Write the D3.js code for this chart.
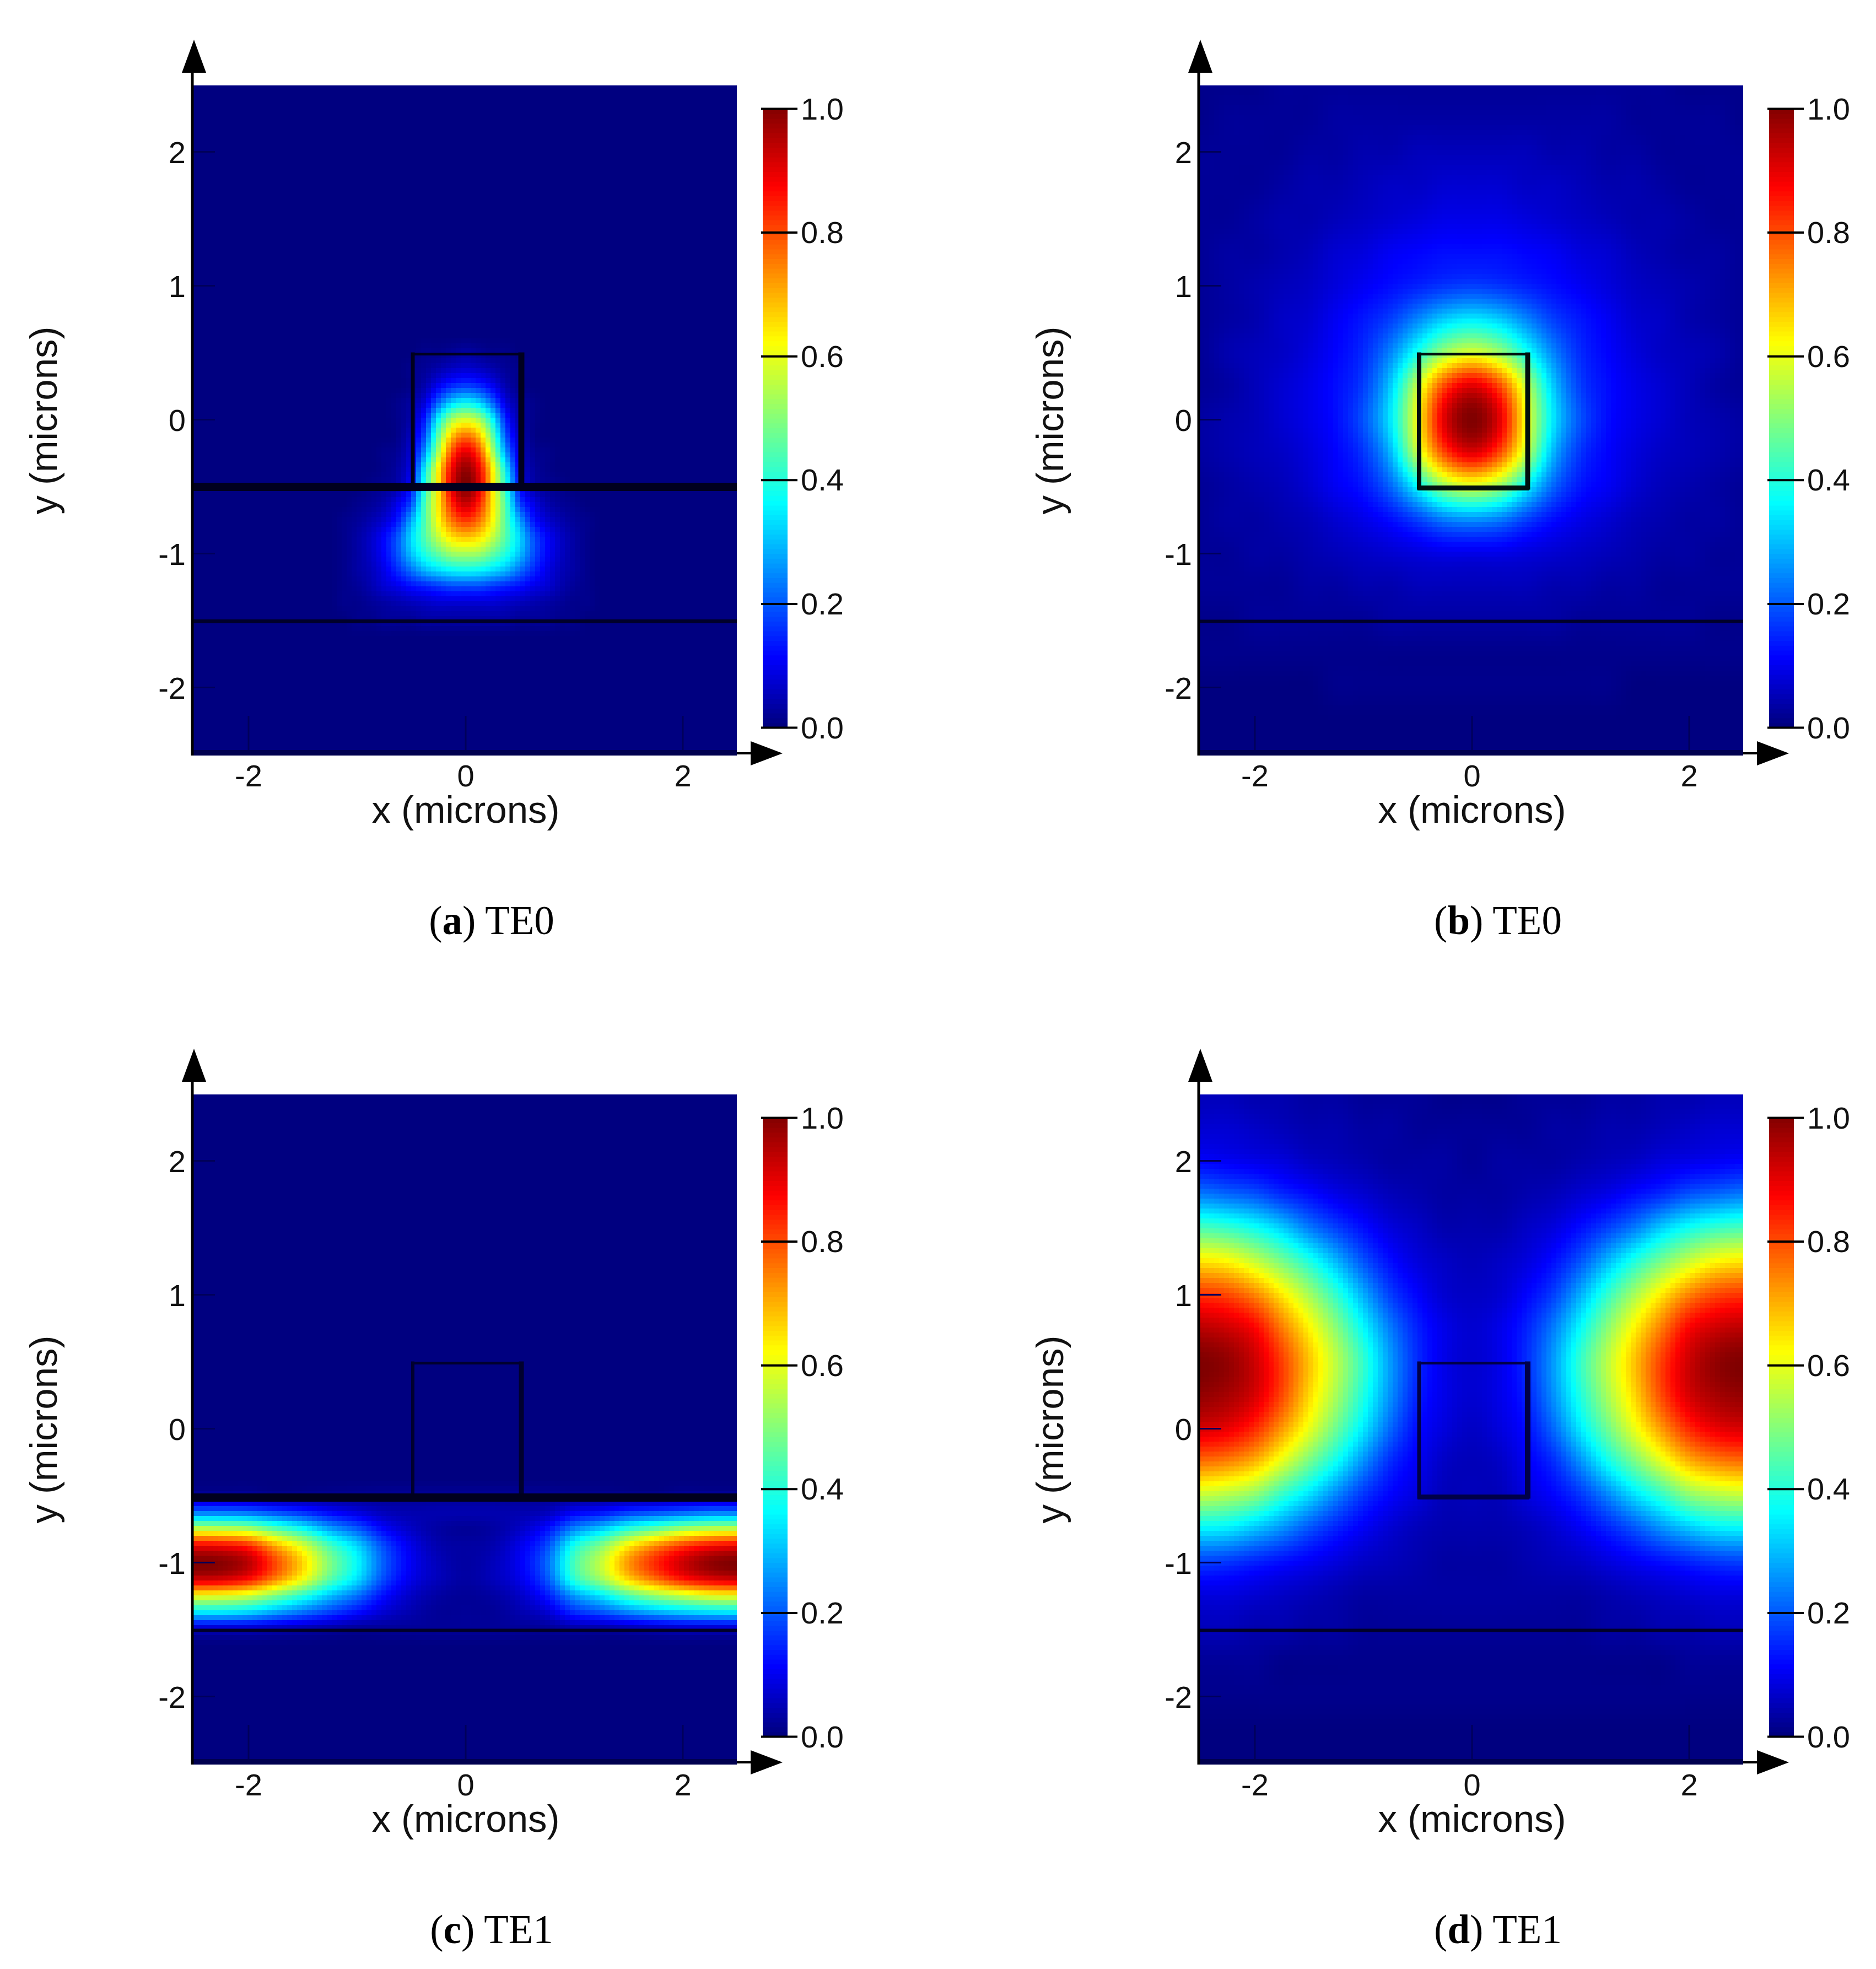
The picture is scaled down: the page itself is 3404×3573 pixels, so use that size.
<!DOCTYPE html>
<html>
<head>
<meta charset="utf-8">
<script src="https://cdn.jsdelivr.net/npm/d3@7"></script>
<style>
body { margin: 0; background: #fff; }
#heat, #svg1 { position: absolute; left: 0; top: 0; }
</style>
</head>
<body>
<canvas id="heat" width="3404" height="3573"></canvas>
<svg id="svg1" width="3404" height="3573"></svg>
<script>
// axis ticks
const xTicks = [-2, 0, 2];
const yTicks = [-2, -1, 0, 1, 2];
const barTicks = [0, 0.2, 0.4, 0.6, 0.8, 1];
// colour stops of the bar
const jetStops = [0, 0.11, 0.36, 0.62, 0.87, 1];
const jetColors = ['#000080', '#0000ff', '#00ffff', '#ffff00', '#ff0000', '#800000'];
// sample positions (microns)
const xsWide = [-2.5,-2.25,-2,-1.75,-1.5,-1.25,-1,-0.75,-0.5,-0.25,0,0.25,0.5,0.75,1,1.25,1.5,1.75,2,2.25,2.5];
const ysWide = [2.5,2.25,2,1.75,1.5,1.25,1,0.75,0.5,0.25,0,-0.25,-0.5,-0.75,-1,-1.25,-1.5,-1.75,-2,-2.25,-2.5];
const xsA = [-1.25,-1.125,-1,-0.875,-0.75,-0.625,-0.5,-0.375,-0.25,-0.125,0,0.125,0.25,0.375,0.5,0.625,0.75,0.875,1,1.125,1.25];
const ysA = [0.625,0.5,0.375,0.25,0.125,0,-0.125,-0.25,-0.375,-0.5,-0.625,-0.75,-0.875,-1,-1.125,-1.25,-1.375,-1.5,-1.625];
const ysC = [-0.375,-0.5,-0.625,-0.75,-0.875,-1,-1.125,-1.25,-1.375,-1.5,-1.625];
// field, percent of the peak, one row per y
const fieldA = [
[0,0,0,0,0,0,0,0,0,0,0,0,0,0,0,0,0,0,0,0,0],
[0,0,0,0,0,0,0,1,1,2,3,2,1,1,0,0,0,0,0,0,0],
[0,0,0,0,0,0,1,2,4,6,7,6,4,2,1,0,0,0,0,0,0],
[0,0,0,0,0,0,1,4,10,15,17,15,10,4,1,0,0,0,0,0,0],
[0,0,0,0,0,1,3,8,21,32,36,32,21,8,3,1,0,0,0,0,0],
[0,0,0,0,0,1,4,14,36,53,58,53,36,14,4,1,0,0,0,0,0],
[0,0,0,0,0,1,6,19,46,68,76,68,46,19,6,1,0,0,0,0,0],
[0,0,0,0,1,2,8,26,54,80,90,80,54,26,8,2,1,0,0,0,0],
[0,0,0,0,1,3,10,35,63,88,98,88,63,35,10,3,1,0,0,0,0],
[0,0,0,1,2,4,13,39,64,90,100,90,64,39,13,4,2,1,0,0,0],
[0,0,1,2,4,9,18,43,64,84,93,84,64,43,18,9,4,2,1,0,0],
[0,1,2,4,7,13,27,44,62,76,82,76,62,44,27,13,7,4,2,1,0],
[0,1,3,6,11,19,32,44,56,65,68,65,56,44,32,19,11,6,3,1,0],
[0,1,3,6,11,19,30,39,46,52,53,52,46,39,30,19,11,6,3,1,0],
[0,1,3,5,9,15,22,29,33,36,37,36,33,29,22,15,9,5,3,1,0],
[0,1,2,4,7,9,12,14,16,18,18,18,16,14,12,9,7,4,2,1,0],
[0,1,1,2,3,4,5,6,7,7,7,7,7,6,5,4,3,2,1,1,0],
[0,0,1,1,2,2,2,3,3,3,3,3,3,3,2,2,2,1,1,0,0],
[0,0,0,0,0,0,0,0,0,0,0,0,0,0,0,0,0,0,0,0,0]
];
const fieldB = [
[1,1,1,2,2,2,2,2,2,2,2,2,2,2,2,2,2,2,1,1,1],
[1,2,2,2,2,3,3,3,3,3,3,3,3,3,3,3,2,2,2,2,1],
[2,2,2,2,3,3,4,4,5,5,5,5,5,4,4,3,3,2,2,2,2],
[2,2,2,3,4,4,5,6,6,7,7,7,6,6,5,4,4,3,2,2,2],
[2,2,3,4,4,5,6,7,8,9,9,9,8,7,6,5,4,4,3,2,2],
[2,3,3,4,5,7,8,10,11,12,12,12,11,10,8,7,5,4,3,3,2],
[2,3,4,5,6,8,10,12,14,16,17,16,14,12,10,8,6,5,4,3,2],
[2,3,4,6,7,10,13,17,24,31,34,31,24,17,13,10,7,6,4,3,2],
[2,4,5,6,8,11,15,24,38,52,58,52,38,24,15,11,8,6,5,4,2],
[2,3,5,7,9,12,17,31,56,80,90,80,56,31,17,12,9,7,5,3,2],
[3,4,5,7,9,12,19,34,61,90,100,90,61,34,19,12,9,7,5,4,3],
[3,4,5,6,8,11,16,29,56,80,90,80,56,29,16,11,8,6,5,4,3],
[2,3,4,5,7,10,13,21,36,52,58,52,36,21,13,10,7,5,4,3,2],
[2,3,3,4,5,7,9,12,17,23,25,23,17,12,9,7,5,4,3,3,2],
[2,2,3,3,4,5,6,7,8,9,9,9,8,7,6,5,4,3,3,2,2],
[2,2,2,2,3,3,4,4,5,5,5,5,5,4,4,3,3,2,2,2,2],
[1,1,2,2,2,2,2,3,3,3,3,3,3,3,2,2,2,2,2,1,1],
[1,1,1,1,1,1,1,1,1,1,1,1,1,1,1,1,1,1,1,1,1],
[0,0,0,0,0,1,1,1,1,1,1,1,1,1,1,1,0,0,0,0,0],
[0,0,0,0,0,0,0,0,0,0,0,0,0,0,0,0,0,0,0,0,0],
[0,0,0,0,0,0,0,0,0,0,0,0,0,0,0,0,0,0,0,0,0]
];
const fieldC = [
[0,0,0,0,0,0,0,0,0,0,0,0,0,0,0,0,0,0,0,0,0],
[3,3,3,2,2,2,2,2,2,2,2,2,2,2,2,2,2,2,3,3,3],
[22,22,21,18,15,11,8,5,4,4,4,4,4,5,10,12,16,18,20,22,22],
[56,55,53,45,37,27,20,11,6,3,2,3,6,12,24,31,40,46,52,55,56],
[88,87,83,70,58,43,32,18,9,4,3,4,9,18,38,49,63,73,81,86,88],
[100,99,94,80,66,49,36,20,10,5,3,5,10,21,43,56,72,83,92,98,100],
[92,91,86,74,61,45,33,18,9,5,3,5,9,19,40,52,66,76,85,90,92],
[61,60,57,49,40,30,22,12,6,3,2,3,6,13,26,34,44,51,56,60,61],
[34,34,32,27,22,17,12,7,4,2,2,2,4,7,15,19,24,28,31,33,34],
[6,6,6,5,4,3,2,2,2,2,2,2,2,2,3,3,4,5,6,6,6],
[0,0,0,0,0,0,0,0,0,0,0,0,0,0,0,0,0,0,0,0,0]
];
const fieldD = [
[5,5,4,4,3,3,2,2,2,1,1,1,2,2,2,3,3,4,4,5,5],
[7,7,6,5,4,4,3,3,2,2,2,2,2,3,3,4,4,5,6,7,7],
[11,10,9,8,6,5,4,3,3,3,2,3,3,3,4,5,6,8,9,10,11],
[23,21,19,15,12,9,7,5,4,3,3,3,4,5,7,9,12,15,19,21,23],
[43,41,37,31,23,17,12,8,6,4,4,4,6,8,12,17,23,31,37,41,43],
[64,62,56,48,39,29,19,12,8,6,5,6,8,12,19,29,39,48,56,62,64],
[82,80,74,64,53,41,28,17,11,7,6,7,11,17,28,41,53,64,74,80,82],
[94,92,87,75,63,50,36,23,14,9,7,9,14,23,36,50,63,75,87,92,94],
[100,98,92,81,68,55,41,26,15,9,7,9,15,26,41,55,68,81,92,98,100],
[98,96,91,80,66,53,39,25,14,9,7,9,14,25,39,53,66,80,91,96,98],
[91,89,83,72,60,47,34,21,12,8,6,8,12,21,34,47,60,72,83,89,91],
[76,74,69,59,48,37,25,15,10,6,5,6,10,15,25,37,48,59,69,74,76],
[56,54,50,41,33,24,16,11,8,5,5,5,8,11,16,24,33,41,50,54,56],
[35,34,30,25,19,14,10,7,5,4,4,4,5,7,10,14,19,25,30,34,35],
[17,16,14,12,10,8,6,5,4,3,3,3,4,5,6,8,10,12,14,16,17],
[8,8,7,6,5,4,3,3,3,3,3,3,3,3,3,4,5,6,7,8,8],
[5,5,4,4,3,3,2,2,2,2,2,2,2,2,2,3,3,4,4,5,5],
[2,2,2,1,1,1,1,1,1,1,1,1,1,1,1,1,1,1,2,2,2],
[1,1,1,1,1,1,1,1,1,1,1,1,1,1,1,1,1,1,1,1,1],
[0,0,0,0,0,0,0,0,0,0,0,0,0,0,0,0,0,0,0,0,0],
[0,0,0,0,0,0,0,0,0,0,0,0,0,0,0,0,0,0,0,0,0]
];
// waveguide outline
const ribX = [-0.5, 0.5];
const ribY = [0.5, -0.5];
const slabY = -1.5;

const panels = [
  {tag:'a', mode:'TE0', dx:0, dy:0, field:fieldA, xs:xsA, ys:ysA, slab:1, box:'#00001e', w:[5,7,11], lower:7},
  {tag:'b', mode:'TE0', dx:1826, dy:0, field:fieldB, xs:xsWide, ys:ysWide, slab:0, box:'#00100e', w:[5,8,9], lower:6},
  {tag:'c', mode:'TE1', dx:0, dy:1831, field:fieldC, xs:xsWide, ys:ysC, slab:4, box:'#00002e', w:[5,6,9], lower:6},
  {tag:'d', mode:'TE1', dx:1826, dy:1831, field:fieldD, xs:xsWide, ys:ysWide, slab:0, box:'#000048', w:[5,7,10], lower:6}
];

const svg = d3.select('#svg1');
const ctx = document.getElementById('heat').getContext('2d');
const jet = d3.scaleLinear().domain(jetStops).range(jetColors).clamp(true);
const cell = 9;

function catmull(p0, p1, p2, p3, t) {
  return 0.5 * (2*p1 + (p2-p0)*t + (2*p0-5*p1+4*p2-p3)*t*t + (3*p1-p0-3*p2+p3)*t*t*t);
}
// smooth shading between the samples of a field
function sample(p, x, y) {
  const fx = p.ix(x), fy = p.iy(y);
  const i = Math.floor(fx), j = Math.floor(fy);
  const col = c => Math.max(0, Math.min(p.xs.length-1, c));
  const row = r => p.field[Math.max(0, Math.min(p.ys.length-1, r))];
  const vals = [-1,0,1,2].map(k => {
    const r = row(j+k);
    return catmull(r[col(i-1)], r[col(i)], r[col(i+1)], r[col(i+2)], fx-i);
  });
  return catmull(vals[0], vals[1], vals[2], vals[3], fy-j) / 100;
}

panels.forEach(p => {
  const left = 350 + p.dx, right = 1337 + p.dx;
  const top = 155 + p.dy, bottom = 1371 + p.dy;
  const x = d3.scaleLinear().domain([-2.5, 2.5]).range([352 + p.dx, 1337 + p.dx]);
  const y = d3.scaleLinear().domain([0, 1]).range([761 + p.dy, 518 + p.dy]);
  p.ix = d3.scaleLinear().domain(d3.extent(p.xs)).range([0, p.xs.length-1]).clamp(true);
  p.iy = d3.scaleLinear().domain([p.ys[0], p.ys[p.ys.length-1]]).range([0, p.ys.length-1]).clamp(true);

  // heat map
  for (let py = top; py < bottom; py += cell) {
    for (let px = left; px < right; px += cell) {
      ctx.fillStyle = jet(sample(p, x.invert(px + cell/2), y.invert(py + cell/2)));
      ctx.fillRect(px, py, Math.min(cell, right-px), Math.min(cell, bottom-py));
    }
  }

  const g = svg.append('g').attr('class', 'panel-' + p.tag);

  // waveguide lines
  const ln = (x1, y1, x2, y2, w, c) => g.append('line')
    .attr('x1', x1).attr('y1', y1).attr('x2', x2).attr('y2', y2)
    .attr('stroke', c).attr('stroke-width', w);
  ln(x(ribX[0]), y(ribY[0]) + 3, x(ribX[1]) + 4, y(ribY[0]) + 3, p.w[0], p.box);
  ln(x(ribX[0]) + 3, y(ribY[0]), x(ribX[0]) + 3, y(ribY[1]) + 6, p.w[1], p.box);
  ln(x(ribX[1]) + 3, y(ribY[0]), x(ribX[1]) + 3, y(ribY[1]) + 6, p.w[2], p.box);
  ln(x(ribX[0]), y(ribY[1]) + 3, x(ribX[1]) + 6, y(ribY[1]) + 3, 9, p.box);
  if (p.slab) ln(left, y(ribY[1]) + p.slab, right, y(ribY[1]) + p.slab, 15, '#00001e');
  ln(left, y(slabY) + 2, right, y(slabY) + 2, p.lower, '#00002a');

  // axes, ticks point inward
  const xAxis = g.append('g').attr('transform', `translate(0,${bottom})`)
    .call(d3.axisBottom(x).tickValues(xTicks).tickFormat(String).tickSizeInner(-72).tickSizeOuter(0));
  const yAxis = g.append('g').attr('transform', `translate(${left},0)`)
    .call(d3.axisLeft(y).tickValues(yTicks).tickFormat(String).tickSizeInner(-40).tickSizeOuter(0));
  [xAxis, yAxis].forEach(a => {
    a.select('.domain').remove();
    a.selectAll('line').attr('stroke', '#00005a').attr('stroke-width', 3);
    a.selectAll('text').attr('font-family', 'Liberation Sans').attr('font-size', 56).attr('fill', '#111');
  });
  xAxis.selectAll('text').attr('y', 56).attr('dy', 0);
  yAxis.selectAll('text').attr('x', -13).attr('dy', 20);

  // plot frame with arrows
  ln(left, bottom - 5, right, bottom - 5, 10, '#000050');
  ln(left - 1, 100 + p.dy, left - 1, bottom, 5, '#000');
  ln(right, bottom - 4, right + 40, bottom - 4, 4, '#000');
  g.append('path').attr('fill', '#000')
    .attr('d', `M${left+2},${72+p.dy}L${left+24},${132+p.dy}L${left-20},${132+p.dy}Z`);
  g.append('path').attr('fill', '#000')
    .attr('d', `M${right+83},${bottom-4}L${right+25},${bottom-26}L${right+25},${bottom+18}Z`);

  // axis titles
  g.append('text').attr('x', 845 + p.dx).attr('y', 1493 + p.dy).attr('text-anchor', 'middle')
    .attr('font-family', 'Liberation Sans').attr('font-size', 69).attr('fill', '#111').text('x (microns)');
  g.append('text').attr('transform', `translate(${103 + p.dx},${763 + p.dy}) rotate(-90)`).attr('text-anchor', 'middle')
    .attr('font-family', 'Liberation Sans').attr('font-size', 69).attr('fill', '#111').text('y (microns)');

  // colour bar
  const bar = d3.scaleLinear().domain([0, 1]).range([1320 + p.dy, 197 + p.dy]);
  const levels = d3.range(0, 1, 1/128);
  g.append('g').selectAll('rect').data(levels).join('rect')
    .attr('x', 1384 + p.dx).attr('width', 45)
    .attr('y', d => bar(d + 1/128))
    .attr('height', d => bar(d) - bar(d + 1/128) + 1)
    .attr('fill', d => jet(d));
  const barAxis = g.append('g').attr('transform', `translate(${1381 + p.dx},0)`)
    .call(d3.axisRight(bar).tickValues(barTicks).tickFormat(d3.format('.1f')).tickSizeInner(66).tickSizeOuter(0));
  barAxis.select('.domain').remove();
  barAxis.selectAll('line').attr('stroke', '#000').attr('stroke-width', 4);
  barAxis.selectAll('text').attr('x', 72).attr('dy', 19)
    .attr('font-family', 'Liberation Sans').attr('font-size', 56).attr('fill', '#111');

  // caption
  const cap = g.append('text').attr('x', 892 + p.dx).attr('y', 1695 + p.dy).attr('text-anchor', 'middle')
    .attr('font-family', 'Liberation Serif').attr('font-size', 73).attr('fill', '#000');
  cap.append('tspan').text('(');
  cap.append('tspan').attr('font-weight', 'bold').text(p.tag);
  cap.append('tspan').text(') ' + p.mode);
});
</script>
</body>
</html>
